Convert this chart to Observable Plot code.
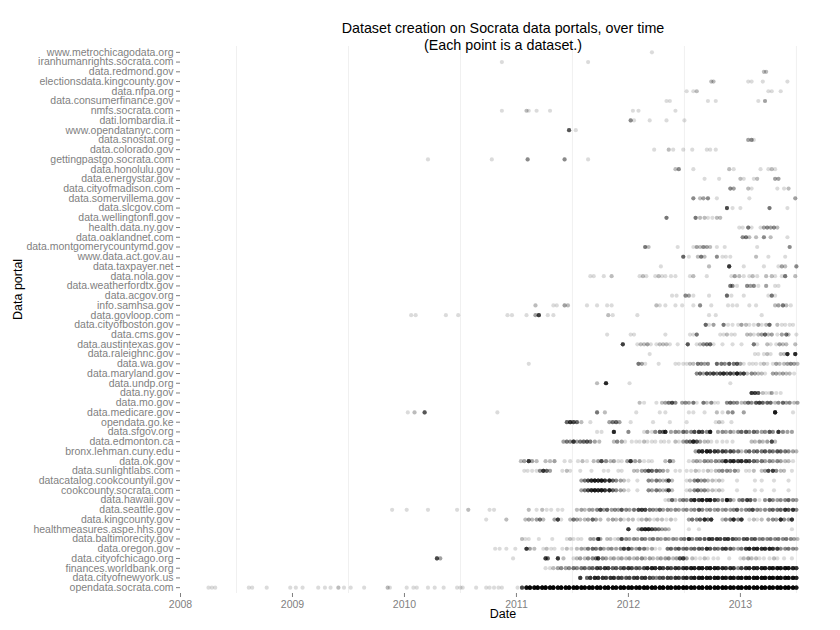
<!DOCTYPE html>
<html>
<head>
<meta charset="utf-8">
<script src="https://cdn.jsdelivr.net/npm/d3@7"></script>
<script src="https://cdn.jsdelivr.net/npm/@observablehq/plot@0.6"></script>
<style>
  html, body { margin: 0; padding: 0; background: #fff; }
  #chart { width: 840px; height: 630px; }
</style>
</head>
<body>
<div id="chart"></div>
<script>
// Portals, top to bottom as in the chart
const portals = [
  "www.metrochicagodata.org","iranhumanrights.socrata.com","data.redmond.gov","electionsdata.kingcounty.gov",
  "data.nfpa.org","data.consumerfinance.gov","nmfs.socrata.com","dati.lombardia.it","www.opendatanyc.com",
  "data.snostat.org","data.colorado.gov","gettingpastgo.socrata.com","data.honolulu.gov","data.energystar.gov",
  "data.cityofmadison.com","data.somervillema.gov","data.slcgov.com","data.wellingtonfl.gov","health.data.ny.gov",
  "data.oaklandnet.com","data.montgomerycountymd.gov","www.data.act.gov.au","data.taxpayer.net","data.nola.gov",
  "data.weatherfordtx.gov","data.acgov.org","info.samhsa.gov","data.govloop.com","data.cityofboston.gov",
  "data.cms.gov","data.austintexas.gov","data.raleighnc.gov","data.wa.gov","data.maryland.gov","data.undp.org",
  "data.ny.gov","data.mo.gov","data.medicare.gov","opendata.go.ke","data.sfgov.org","data.edmonton.ca",
  "bronx.lehman.cuny.edu","data.ok.gov","data.sunlightlabs.com","datacatalog.cookcountyil.gov",
  "cookcounty.socrata.com","data.hawaii.gov","data.seattle.gov","data.kingcounty.gov","healthmeasures.aspe.hhs.gov",
  "data.baltimorecity.gov","data.oregon.gov","data.cityofchicago.org","finances.worldbank.org",
  "data.cityofnewyork.us","opendata.socrata.com"
];

// Each entry: [creation date as decimal year, number of datasets created at that date]
const metrochicago = [[2012.21,1]];
const iranhumanrights = [[2010.87,1],[2011.64,1]];
const redmond = [[2013.21,2],[2013.23,2]];
const electionsKing = [[2012.74,2],[2012.76,2],[2013.07,1],[2013.10,1],[2013.20,1],[2013.42,1]];
const nfpa = [[2012.52,1],[2012.58,1],[2012.61,2],[2013.25,1],[2013.28,1],[2013.36,1]];
const consumerfinance = [[2012.34,1],[2012.37,1],[2012.71,1],[2012.78,1],[2013.16,1],[2013.22,3]];
const nmfs = [[2010.87,1],[2011.09,2],[2011.11,1],[2011.18,1],[2011.30,1],[2012.04,1],[2012.09,1],[2012.42,1]];
const lombardia = [[2012.02,4],[2012.05,1],[2012.19,1],[2012.34,1],[2012.50,1]];
const opendatanyc = [[2011.47,7],[2011.53,1]];
const snostat = [[2013.07,3],[2013.10,4],[2013.12,1]];
const colorado = [[2012.23,1],[2012.36,2],[2012.40,1],[2012.49,1],[2012.57,1],[2012.70,1],[2012.73,1],[2012.78,1]];
const gettingpastgo = [[2010.21,1],[2010.78,1],[2011.10,4],[2011.43,4],[2011.64,1]];
const honolulu = [[2012.42,2],[2012.45,4],[2012.58,1],[2012.90,2],[2012.94,1],[2013.18,1],[2013.25,1],[2013.28,2],[2013.31,1]];
const energystar = [[2012.68,1],[2012.81,1],[2013.00,2],[2013.03,1],[2013.12,1],[2013.15,2],[2013.31,3],[2013.34,3]];
const madison = [[2012.91,4],[2012.94,3],[2013.07,2],[2013.10,1],[2013.33,1],[2013.39,1],[2013.43,2]];
const somerville = [[2012.58,4],[2012.64,2],[2012.67,3],[2012.71,4],[2012.79,1],[2013.08,1],[2013.49,3]];
const slcgov = [[2012.88,8],[2012.93,1],[2013.00,1],[2013.26,5],[2013.42,1]];
const wellington = [[2012.34,5],[2012.60,5],[2012.64,2],[2012.68,2],[2012.71,1],[2012.75,1],[2012.79,2],[2012.82,2]];
const healthNy = [[2012.99,1],[2013.02,1],[2013.07,5],[2013.10,1],[2013.18,1],[2013.21,3],[2013.24,4],[2013.27,3],[2013.30,4],[2013.33,2]];
const oakland = [[2013.02,4],[2013.05,5],[2013.08,2],[2013.14,2],[2013.21,4],[2013.27,2],[2013.42,1]];
const montgomery = [[2012.15,5],[2012.18,2],[2012.44,1],[2012.58,1],[2012.61,3],[2012.64,2],[2012.67,4],[2012.70,3],[2012.73,2],[2012.79,1],[2012.86,1],[2013.15,1],[2013.44,4]];
const actgov = [[2012.49,6],[2012.54,1],[2012.62,2],[2012.65,5],[2012.68,2],[2012.79,4],[2012.84,1],[2012.87,1],[2012.91,1],[2013.14,2],[2013.25,1],[2013.40,1]];
const taxpayer = [[2012.29,1],[2012.72,2],[2012.90,10],[2013.03,1],[2013.21,1],[2013.34,1],[2013.37,3],[2013.40,2],[2013.50,4]];
const nola = [[2011.66,1],[2011.69,1],[2011.78,1],[2011.85,2],[2012.10,1],[2012.13,2],[2012.16,1],[2012.24,1],[2012.27,2],[2012.30,1],[2012.33,1],[2012.38,1],[2012.42,1],[2012.55,1],[2012.58,2],[2012.70,1],[2012.92,1],[2012.95,3],[2012.99,2],[2013.03,1],[2013.08,1],[2013.11,2],[2013.15,1],[2013.23,2],[2013.28,2],[2013.31,1],[2013.37,1],[2013.40,5],[2013.49,2]];
const weatherford = [[2012.91,5],[2012.93,4],[2012.97,1],[2013.06,4],[2013.09,3],[2013.12,4],[2013.16,1],[2013.23,3],[2013.31,1],[2013.34,1]];
const acgov = [[2012.39,1],[2012.43,1],[2012.51,4],[2012.54,3],[2012.58,1],[2012.72,1],[2012.88,6],[2012.92,1],[2013.03,1],[2013.25,1],[2013.28,5],[2013.31,1]];
const samhsa = [[2011.17,2],[2011.33,1],[2011.36,1],[2011.43,3],[2011.46,2],[2011.63,1],[2011.72,1],[2011.81,1],[2011.85,1],[2012.25,2],[2012.28,1],[2012.33,1],[2012.42,1],[2012.48,1],[2012.58,1],[2012.64,4],[2012.74,1],[2012.89,1],[2012.93,1],[2012.97,1],[2013.08,1],[2013.14,1],[2013.31,2],[2013.34,3],[2013.38,5],[2013.41,2],[2013.45,1]];
const govloop = [[2010.06,1],[2010.10,1],[2010.37,1],[2010.48,1],[2010.92,1],[2010.96,1],[2011.09,1],[2011.17,3],[2011.20,9],[2011.28,1],[2011.33,1],[2011.82,2],[2011.86,1],[2012.08,1],[2012.72,1],[2012.78,1],[2013.19,1]];
const boston = [[2012.69,6],[2012.72,1],[2012.76,3],[2012.85,5],[2012.89,1],[2012.93,1],[2012.98,1],[2013.01,3],[2013.05,2],[2013.08,1],[2013.12,1],[2013.16,3],[2013.19,1],[2013.23,2],[2013.26,6],[2013.33,2],[2013.37,1],[2013.40,1],[2013.44,1],[2013.47,1]];
const cms = [[2011.81,1],[2012.02,1],[2012.05,1],[2012.33,1],[2012.55,1],[2012.58,1],[2012.61,5],[2012.82,1],[2012.85,1],[2012.88,2],[2012.92,1],[2012.95,1],[2013.06,2],[2013.09,2],[2013.12,1],[2013.16,2],[2013.19,3],[2013.22,6],[2013.25,2],[2013.28,3],[2013.33,1],[2013.37,3],[2013.41,5],[2013.43,2],[2013.50,1]];
const austin = [[2011.95,9],[2012.08,1],[2012.11,2],[2012.14,2],[2012.17,3],[2012.20,1],[2012.25,1],[2012.28,2],[2012.31,2],[2012.34,2],[2012.37,1],[2012.44,1],[2012.53,7],[2012.61,1],[2012.64,2],[2012.67,4],[2012.70,5],[2012.73,6],[2012.76,1],[2012.84,1],[2012.93,1],[2013.01,1],[2013.12,5],[2013.15,1],[2013.24,2],[2013.27,1],[2013.32,1],[2013.35,3],[2013.38,2],[2013.41,2],[2013.49,2]];
const raleigh = [[2012.19,1],[2013.13,1],[2013.16,1],[2013.21,1],[2013.24,2],[2013.27,1],[2013.36,2],[2013.39,2],[2013.42,12],[2013.49,12]];
const wa = [[2011.11,1],[2012.09,5],[2012.12,3],[2012.15,1],[2012.27,1],[2012.42,1],[2012.45,1],[2012.49,1],[2012.52,1],[2012.55,2],[2012.58,2],[2012.62,5],[2012.65,4],[2012.68,3],[2012.71,4],[2012.79,6],[2012.83,5],[2012.86,4],[2012.90,7],[2012.94,5],[2012.97,7],[2013.00,3],[2013.03,1],[2013.08,1],[2013.11,1],[2013.14,1],[2013.18,1],[2013.21,2],[2013.24,1],[2013.29,1],[2013.32,3],[2013.35,2],[2013.39,2],[2013.42,3],[2013.45,4],[2013.48,3],[2013.51,2]];
const maryland = [[2012.61,4],[2012.64,6],[2012.67,3],[2012.70,8],[2012.73,6],[2012.76,9],[2012.79,5],[2012.82,8],[2012.85,11],[2012.88,6],[2012.91,9],[2012.94,5],[2012.97,13],[2013.00,6],[2013.03,9],[2013.06,2],[2013.10,4],[2013.13,3],[2013.16,2],[2013.19,2],[2013.22,1],[2013.29,3],[2013.32,3],[2013.35,2],[2013.38,3],[2013.41,2],[2013.44,2],[2013.48,1]];
const undp = [[2011.72,2],[2011.80,12],[2012.01,1],[2012.91,1]];
const ny = [[2013.10,10],[2013.13,9],[2013.16,7],[2013.20,2],[2013.23,1],[2013.26,1],[2013.28,3],[2013.32,1],[2013.36,1]];
const mo = [[2012.10,2],[2012.14,1],[2012.25,1],[2012.30,2],[2012.33,3],[2012.36,5],[2012.39,8],[2012.42,4],[2012.48,3],[2012.51,4],[2012.54,3],[2012.58,5],[2012.61,1],[2012.67,5],[2012.70,2],[2012.74,4],[2012.77,1],[2012.80,1],[2012.88,4],[2012.91,6],[2012.94,4],[2012.97,4],[2013.01,2],[2013.04,3],[2013.07,6],[2013.10,4],[2013.14,7],[2013.17,9],[2013.20,6],[2013.24,6],[2013.27,6],[2013.31,2],[2013.34,4],[2013.38,6],[2013.41,3],[2013.44,4],[2013.48,2],[2013.51,3]];
const medicare = [[2010.03,1],[2010.09,2],[2010.18,7],[2010.83,1],[2011.72,5],[2011.79,2],[2012.07,1],[2012.28,1],[2012.33,1],[2012.54,1],[2012.58,1],[2012.68,1],[2012.79,2],[2012.84,1],[2012.89,3],[2012.93,4],[2013.03,3],[2013.31,15],[2013.47,1]];
const kenya = [[2011.45,6],[2011.48,10],[2011.51,8],[2011.54,6],[2011.58,2],[2011.66,1],[2011.83,3],[2011.86,5],[2011.89,6],[2011.92,3],[2012.02,1],[2012.22,1],[2012.37,1],[2012.52,1],[2012.78,1],[2012.81,2],[2012.84,1],[2012.92,1]];
const sfgov = [[2011.72,1],[2011.76,1],[2011.87,12],[2012.00,4],[2012.14,1],[2012.17,3],[2012.21,1],[2012.24,4],[2012.28,7],[2012.31,6],[2012.33,12],[2012.38,3],[2012.42,4],[2012.45,3],[2012.49,6],[2012.52,4],[2012.56,4],[2012.59,8],[2012.63,10],[2012.66,8],[2012.70,4],[2012.73,14],[2012.80,3],[2012.84,4],[2012.87,3],[2012.91,4],[2012.94,2],[2012.98,4],[2013.01,6],[2013.05,7],[2013.08,4],[2013.12,6],[2013.15,4],[2013.19,3],[2013.22,4],[2013.26,7],[2013.29,4],[2013.34,10],[2013.38,4],[2013.42,3],[2013.46,3]];
const edmonton = [[2011.42,3],[2011.45,5],[2011.48,4],[2011.51,10],[2011.54,3],[2011.57,5],[2011.60,6],[2011.63,7],[2011.66,5],[2011.70,3],[2011.74,2],[2011.87,2],[2011.90,4],[2011.94,3],[2011.97,1],[2012.03,1],[2012.07,1],[2012.10,1],[2012.14,2],[2012.17,1],[2012.21,1],[2012.24,1],[2012.29,1],[2012.32,1],[2012.36,1],[2012.42,2],[2012.45,1],[2012.49,3],[2012.52,5],[2012.55,6],[2012.58,12],[2012.61,7],[2012.64,3],[2012.68,2],[2012.71,2],[2012.74,1],[2012.79,1],[2012.84,1],[2012.88,1],[2012.93,1],[2013.10,2],[2013.13,2],[2013.17,3],[2013.20,2],[2013.24,3],[2013.28,8],[2013.31,2]];
const bronx = [[2012.60,3],[2012.63,10],[2012.66,12],[2012.70,14],[2012.73,12],[2012.77,10],[2012.80,8],[2012.84,9],[2012.87,7],[2012.91,8],[2012.94,6],[2012.98,5],[2013.01,2],[2013.05,4],[2013.08,6],[2013.12,5],[2013.15,6],[2013.19,5],[2013.22,7],[2013.26,6],[2013.29,5],[2013.33,7],[2013.36,6],[2013.40,5],[2013.43,4],[2013.47,3],[2013.50,2]];
const ok = [[2011.04,2],[2011.07,3],[2011.11,10],[2011.14,3],[2011.18,2],[2011.26,2],[2011.30,2],[2011.34,3],[2011.43,1],[2011.48,1],[2011.55,1],[2011.59,2],[2011.63,1],[2011.69,2],[2011.73,3],[2011.76,8],[2011.80,4],[2011.84,2],[2011.87,3],[2011.91,1],[2011.94,1],[2011.99,3],[2012.02,10],[2012.06,3],[2012.10,3],[2012.14,1],[2012.18,1],[2012.21,1],[2012.33,2],[2012.37,6],[2012.40,2],[2012.54,1],[2012.58,2],[2012.61,3],[2012.64,2],[2012.68,4],[2012.71,3],[2012.74,3],[2012.78,4],[2012.81,3],[2012.84,5],[2012.87,12],[2012.91,10],[2012.94,12],[2012.98,9],[2013.01,11],[2013.05,10],[2013.08,8],[2013.12,6],[2013.15,4],[2013.19,5],[2013.22,3],[2013.26,4],[2013.29,3],[2013.33,4],[2013.36,3],[2013.40,2],[2013.43,2],[2013.47,1]];
const sunlight = [[2011.07,1],[2011.10,1],[2011.14,1],[2011.18,1],[2011.21,4],[2011.24,10],[2011.27,6],[2011.30,3],[2011.41,1],[2011.45,2],[2011.48,1],[2011.57,1],[2011.67,1],[2011.78,1],[2011.82,1],[2011.91,1],[2011.94,1],[2012.05,2],[2012.08,2],[2012.12,3],[2012.15,4],[2012.18,8],[2012.21,6],[2012.25,6],[2012.28,4],[2012.31,3],[2012.35,2],[2012.42,1],[2012.46,1],[2012.52,1],[2012.56,1],[2012.60,2],[2012.63,1],[2012.67,1],[2012.71,2],[2012.74,1],[2012.78,2],[2012.81,3],[2012.84,4],[2012.88,4],[2012.91,3],[2012.95,4],[2012.98,2],[2013.05,1],[2013.08,1],[2013.12,2],[2013.19,2],[2013.22,3],[2013.25,8],[2013.29,9],[2013.32,4],[2013.36,2],[2013.39,2],[2013.46,1]];
const cookcountyil = [[2011.58,3],[2011.61,5],[2011.64,8],[2011.67,12],[2011.70,14],[2011.73,12],[2011.76,14],[2011.79,10],[2011.83,12],[2011.86,6],[2011.89,4],[2011.93,3],[2011.96,2],[2012.00,1],[2012.08,1],[2012.18,4],[2012.21,3],[2012.25,5],[2012.28,3],[2012.31,2],[2012.34,3],[2012.36,8],[2012.39,2],[2012.52,1],[2012.55,2],[2012.59,4],[2012.62,6],[2012.65,3],[2012.68,4],[2012.71,2],[2012.75,2],[2012.78,1],[2012.81,2],[2012.84,1],[2012.97,1],[2013.13,1],[2013.19,1],[2013.30,1],[2013.43,1]];
const cookcountySocrata = [[2011.58,3],[2011.61,5],[2011.64,8],[2011.67,12],[2011.70,14],[2011.73,12],[2011.76,14],[2011.79,10],[2011.83,12],[2011.86,6],[2011.89,4],[2011.93,3],[2011.96,2],[2012.00,1],[2012.08,1],[2012.18,4],[2012.21,3],[2012.25,5],[2012.28,3],[2012.31,2],[2012.34,3],[2012.36,8],[2012.39,2],[2012.52,1],[2012.55,2],[2012.59,4],[2012.62,6],[2012.65,3],[2012.68,4],[2012.71,2],[2012.75,2],[2012.78,1],[2012.81,2],[2012.84,1],[2012.97,1],[2013.13,1],[2013.19,1],[2013.30,1],[2013.43,1]];
const hawaii = [[2012.33,1],[2012.36,2],[2012.39,6],[2012.42,2],[2012.46,3],[2012.49,5],[2012.52,4],[2012.56,8],[2012.59,12],[2012.63,9],[2012.66,13],[2012.70,12],[2012.73,14],[2012.77,9],[2012.80,5],[2012.84,4],[2012.88,15],[2012.91,6],[2012.94,2],[2012.99,4],[2013.02,6],[2013.06,9],[2013.09,7],[2013.13,4],[2013.17,1],[2013.22,4],[2013.26,7],[2013.29,4],[2013.33,3],[2013.36,4],[2013.40,4],[2013.43,6],[2013.47,4],[2013.50,3]];
const seattle = [[2009.89,1],[2010.02,1],[2010.21,1],[2010.47,1],[2010.57,2],[2010.76,1],[2010.80,1],[2011.11,2],[2011.18,1],[2011.23,2],[2011.27,1],[2011.31,1],[2011.37,1],[2011.41,1],[2011.54,2],[2011.58,3],[2011.61,2],[2011.65,3],[2011.68,3],[2011.72,4],[2011.75,8],[2011.78,3],[2011.81,6],[2011.85,3],[2011.88,4],[2011.91,3],[2011.94,7],[2011.98,4],[2012.01,3],[2012.05,5],[2012.09,8],[2012.12,9],[2012.15,8],[2012.19,5],[2012.22,4],[2012.25,3],[2012.28,6],[2012.31,3],[2012.35,4],[2012.38,3],[2012.42,4],[2012.45,3],[2012.49,3],[2012.52,4],[2012.56,3],[2012.59,4],[2012.63,7],[2012.66,4],[2012.70,3],[2012.73,4],[2012.77,3],[2012.80,4],[2012.84,3],[2012.87,4],[2012.91,3],[2012.94,4],[2012.97,7],[2013.01,3],[2013.05,4],[2013.08,5],[2013.11,8],[2013.15,4],[2013.18,3],[2013.22,4],[2013.26,5],[2013.29,6],[2013.33,5],[2013.36,6],[2013.40,10],[2013.43,7],[2013.47,10],[2013.50,4]];
const kingcounty = [[2010.73,1],[2010.91,2],[2011.08,2],[2011.11,3],[2011.14,2],[2011.18,3],[2011.21,5],[2011.24,2],[2011.34,3],[2011.37,9],[2011.40,1],[2011.48,2],[2011.51,5],[2011.54,3],[2011.57,2],[2011.61,2],[2011.64,3],[2011.68,6],[2011.71,3],[2011.75,2],[2011.82,2],[2011.86,3],[2011.89,2],[2011.93,3],[2011.96,1],[2012.00,2],[2012.04,2],[2012.09,1],[2012.12,2],[2012.16,3],[2012.19,2],[2012.23,1],[2012.26,2],[2012.30,2],[2012.34,1],[2012.38,2],[2012.42,1],[2012.54,3],[2012.57,5],[2012.61,4],[2012.64,6],[2012.68,11],[2012.71,5],[2012.74,10],[2012.84,2],[2012.87,4],[2012.91,5],[2012.94,11],[2012.98,4],[2013.01,10],[2013.08,1],[2013.12,2],[2013.15,1],[2013.19,2],[2013.25,3],[2013.29,4],[2013.32,3],[2013.36,11],[2013.39,4],[2013.43,3],[2013.46,10]];
const healthmeasures = [[2012.00,10],[2012.09,4],[2012.12,10],[2012.15,12],[2012.18,12],[2012.21,8],[2012.24,6],[2012.27,5],[2012.30,3],[2012.33,3],[2012.36,2],[2012.54,1],[2012.63,1],[2013.46,1]];
const baltimore = [[2011.05,2],[2011.08,1],[2011.11,1],[2011.20,1],[2011.32,1],[2011.45,1],[2011.48,2],[2011.51,1],[2011.55,1],[2011.58,1],[2011.66,3],[2011.69,3],[2011.73,10],[2011.75,3],[2011.81,2],[2011.84,2],[2011.88,1],[2011.91,2],[2011.94,8],[2011.98,4],[2012.01,3],[2012.05,4],[2012.08,3],[2012.12,5],[2012.15,4],[2012.19,3],[2012.22,5],[2012.26,4],[2012.29,3],[2012.33,4],[2012.36,3],[2012.40,4],[2012.43,3],[2012.47,4],[2012.50,5],[2012.54,11],[2012.57,4],[2012.61,5],[2012.64,6],[2012.68,7],[2012.72,10],[2012.75,9],[2012.79,10],[2012.82,8],[2012.86,9],[2012.89,10],[2012.93,8],[2012.96,5],[2012.99,4],[2013.03,7],[2013.06,8],[2013.10,6],[2013.13,7],[2013.17,4],[2013.20,5],[2013.24,4],[2013.27,5],[2013.31,4],[2013.34,5],[2013.38,4],[2013.41,5],[2013.45,4],[2013.48,3],[2013.51,2]];
const oregon = [[2010.81,1],[2010.85,1],[2010.91,1],[2010.99,1],[2011.09,10],[2011.12,3],[2011.16,2],[2011.24,1],[2011.27,2],[2011.31,1],[2011.34,1],[2011.41,1],[2011.45,2],[2011.49,1],[2011.54,2],[2011.58,3],[2011.61,2],[2011.64,5],[2011.68,6],[2011.71,5],[2011.75,6],[2011.78,3],[2011.82,3],[2011.85,4],[2011.89,3],[2011.93,4],[2011.96,9],[2012.00,10],[2012.03,4],[2012.07,3],[2012.10,6],[2012.14,5],[2012.17,2],[2012.21,3],[2012.24,1],[2012.28,1],[2012.35,5],[2012.38,6],[2012.42,5],[2012.45,7],[2012.49,5],[2012.52,6],[2012.56,5],[2012.59,6],[2012.63,7],[2012.66,6],[2012.70,11],[2012.73,7],[2012.77,6],[2012.80,5],[2012.84,8],[2012.87,9],[2012.91,7],[2012.94,4],[2012.98,3],[2013.01,5],[2013.05,9],[2013.08,12],[2013.12,11],[2013.15,12],[2013.19,10],[2013.22,11],[2013.26,12],[2013.29,10],[2013.33,9],[2013.36,4],[2013.40,4],[2013.43,5],[2013.47,4],[2013.50,3]];
const chicago = [[2010.29,8],[2010.32,3],[2010.97,1],[2011.26,9],[2011.28,6],[2011.37,10],[2011.42,2],[2011.51,1],[2011.54,2],[2011.57,3],[2011.61,2],[2011.64,4],[2011.68,4],[2011.71,5],[2011.73,10],[2011.77,4],[2011.80,3],[2011.84,2],[2011.87,3],[2011.91,2],[2011.94,3],[2011.98,2],[2012.01,3],[2012.05,2],[2012.08,3],[2012.12,4],[2012.15,2],[2012.19,3],[2012.22,2],[2012.26,2],[2012.29,3],[2012.33,3],[2012.36,4],[2012.40,2],[2012.43,3],[2012.46,7],[2012.49,9],[2012.52,3],[2012.57,2],[2012.60,1],[2012.64,1],[2012.68,2],[2012.71,1],[2012.76,1],[2012.80,1],[2012.90,1],[2013.00,1],[2013.03,2],[2013.07,3],[2013.10,2],[2013.14,2],[2013.17,1],[2013.21,1],[2013.26,1],[2013.30,2],[2013.33,1],[2013.39,1],[2013.46,1]];
const worldbank = [[2011.26,1],[2011.30,1],[2011.33,2],[2011.37,3],[2011.40,4],[2011.44,3],[2011.47,4],[2011.51,5],[2011.54,4],[2011.58,5],[2011.61,6],[2011.65,5],[2011.68,6],[2011.72,9],[2011.75,8],[2011.79,10],[2011.82,9],[2011.86,6],[2011.89,7],[2011.93,6],[2011.96,9],[2012.00,10],[2012.03,8],[2012.07,7],[2012.10,6],[2012.14,8],[2012.17,12],[2012.21,13],[2012.24,11],[2012.28,12],[2012.31,9],[2012.35,10],[2012.38,8],[2012.42,10],[2012.45,9],[2012.49,11],[2012.52,12],[2012.56,14],[2012.59,13],[2012.63,15],[2012.66,14],[2012.70,13],[2012.73,15],[2012.77,14],[2012.80,13],[2012.84,12],[2012.87,10],[2012.91,11],[2012.94,10],[2012.98,4],[2013.01,9],[2013.05,11],[2013.08,12],[2013.12,13],[2013.15,12],[2013.19,13],[2013.22,14],[2013.26,13],[2013.29,15],[2013.33,16],[2013.36,15],[2013.40,16],[2013.43,15],[2013.47,14],[2013.50,10]];
const newyork = [[2011.57,10],[2011.63,6],[2011.66,10],[2011.70,12],[2011.73,11],[2011.77,10],[2011.80,9],[2011.84,10],[2011.87,11],[2011.91,9],[2011.94,8],[2011.98,7],[2012.01,8],[2012.05,9],[2012.08,10],[2012.12,9],[2012.15,10],[2012.19,8],[2012.22,6],[2012.25,4],[2012.28,7],[2012.31,8],[2012.35,9],[2012.38,8],[2012.42,10],[2012.45,9],[2012.49,10],[2012.52,12],[2012.56,11],[2012.59,14],[2012.63,15],[2012.66,16],[2012.70,15],[2012.73,14],[2012.77,15],[2012.80,16],[2012.84,15],[2012.87,14],[2012.91,16],[2012.94,15],[2012.98,14],[2013.01,16],[2013.05,17],[2013.08,16],[2013.12,17],[2013.15,18],[2013.19,17],[2013.22,18],[2013.26,17],[2013.29,18],[2013.33,19],[2013.36,18],[2013.40,17],[2013.43,18],[2013.47,17],[2013.50,12]];
const socrata = [[2008.25,1],[2008.28,1],[2008.31,1],[2008.61,1],[2008.64,1],[2008.77,1],[2008.98,1],[2009.03,1],[2009.09,1],[2009.23,1],[2009.29,1],[2009.34,1],[2009.41,2],[2009.46,1],[2009.52,1],[2009.64,1],[2009.85,2],[2009.87,1],[2010.02,1],[2010.08,1],[2010.11,1],[2010.21,1],[2010.27,1],[2010.35,1],[2010.47,1],[2010.50,1],[2010.52,1],[2010.64,1],[2010.73,1],[2010.76,1],[2010.80,1],[2010.84,1],[2010.87,1],[2011.01,1],[2011.05,8],[2011.09,18],[2011.12,22],[2011.16,20],[2011.19,24],[2011.23,22],[2011.26,25],[2011.30,22],[2011.33,24],[2011.37,20],[2011.40,23],[2011.44,21],[2011.47,24],[2011.51,22],[2011.54,25],[2011.58,23],[2011.61,21],[2011.65,24],[2011.68,22],[2011.72,25],[2011.75,23],[2011.79,21],[2011.82,24],[2011.86,22],[2011.89,20],[2011.93,23],[2011.96,25],[2012.00,22],[2012.03,24],[2012.07,21],[2012.10,23],[2012.14,25],[2012.17,22],[2012.21,24],[2012.24,20],[2012.28,23],[2012.31,25],[2012.35,22],[2012.38,24],[2012.42,21],[2012.45,23],[2012.49,25],[2012.52,22],[2012.56,24],[2012.59,20],[2012.63,23],[2012.66,25],[2012.70,22],[2012.73,24],[2012.77,21],[2012.80,23],[2012.84,25],[2012.87,22],[2012.91,24],[2012.94,20],[2012.98,23],[2013.01,25],[2013.05,22],[2013.08,24],[2013.12,21],[2013.15,23],[2013.19,25],[2013.22,22],[2013.26,24],[2013.29,20],[2013.33,23],[2013.36,25],[2013.40,22],[2013.43,24],[2013.47,21],[2013.50,14]];

const portalSeries = [
  metrochicago, iranhumanrights, redmond, electionsKing, nfpa, consumerfinance, nmfs, lombardia, opendatanyc,
  snostat, colorado, gettingpastgo, honolulu, energystar, madison, somerville, slcgov, wellington, healthNy,
  oakland, montgomery, actgov, taxpayer, nola, weatherford, acgov, samhsa, govloop, boston, cms, austin,
  raleigh, wa, maryland, undp, ny, mo, medicare, kenya, sfgov, edmonton, bronx, ok, sunlight, cookcountyil,
  cookcountySocrata, hawaii, seattle, kingcounty, healthmeasures, baltimore, oregon, chicago, worldbank,
  newyork, socrata
];

const yearTicks = [2008, 2009, 2010, 2011, 2012, 2013];
const midYearGrid = [2008.5, 2009.5, 2010.5, 2011.5, 2012.5, 2013.5];
const titleLines = ["Dataset creation on Socrata data portals, over time", "(Each point is a dataset.)"];

// one row per dataset
const datasets = [];
portals.forEach((p, i) => {
  for (const [date, n] of portalSeries[i]) {
    for (let k = 0; k < n; k++) datasets.push({portal: p, date});
  }
});

const grey = "#7f7f7f";
const chart = Plot.plot({
  width: 840,
  height: 630,
  marginLeft: 180,
  marginRight: 15,
  marginTop: 46,
  marginBottom: 37,
  style: {fontFamily: "'Liberation Sans', Arial, Helvetica, sans-serif", fontSize: "10.5px", background: "#fff"},
  x: {domain: [2008.0, 2013.76]},
  y: {domain: portals, type: "point", padding: 0.6},
  marks: [
    Plot.ruleX(midYearGrid, {stroke: "#f0f0f0", strokeWidth: 1}),
    Plot.dot(datasets, {x: "date", y: "portal", r: 2.1, fill: "black", fillOpacity: 0.14}),
    Plot.axisX({ticks: yearTicks, tickFormat: "d", tickSize: 4, tickPadding: 3, color: grey, fontSize: 10.5, label: null}),
    Plot.axisY({tickSize: 4, tickPadding: 3, color: grey, fontSize: 10.5, label: null}),
    Plot.text([titleLines[0]], {frameAnchor: "top", dy: -24, fontSize: 14.3, fill: "black"}),
    Plot.text([titleLines[1]], {frameAnchor: "top", dy: -7, fontSize: 14.3, fill: "black"}),
    Plot.text(["Date"], {frameAnchor: "bottom", dy: 24, fontSize: 12.5, fill: "black"}),
    Plot.text(["Data portal"], {frameAnchor: "left", dx: -163, rotate: -90, fontSize: 12.5, fill: "black"})
  ]
});
document.getElementById("chart").appendChild(chart);
</script>
</body>
</html>
